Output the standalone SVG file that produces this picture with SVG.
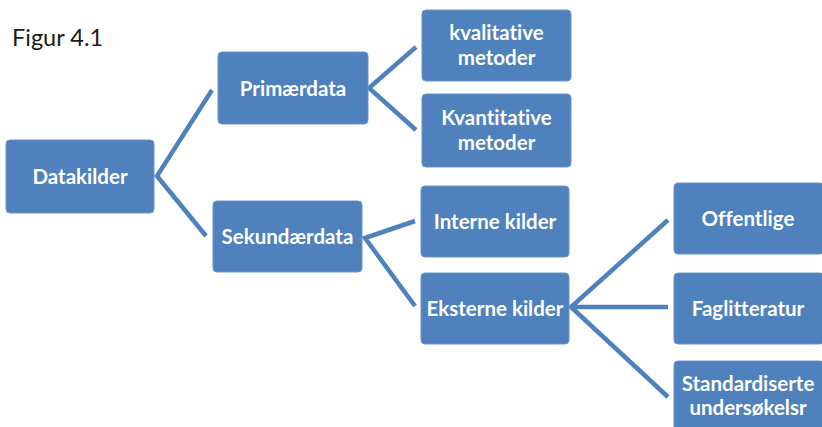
<svg xmlns="http://www.w3.org/2000/svg" width="822" height="427" viewBox="0 0 822 427">
<style>
.box{fill:#4F81BD;stroke:#6a93c8;stroke-width:1}
.lbl{font-family:Lato,"Liberation Sans",sans-serif;font-weight:bold;font-size:20.5px;fill:#ffffff;text-anchor:middle;font-variant-ligatures:none}
.con{fill:none;stroke:#4F81BD;stroke-width:4.5;stroke-linejoin:miter}
.title{font-family:Lato,"Liberation Sans",sans-serif;font-size:23.5px;fill:#1a1a1a}
</style>
<rect width="822" height="427" fill="#ffffff"/>
<text class="title" x="12" y="46">Figur 4.1</text>
<g id="connectors">
<polyline class="con" points="212,90 157,176 206,236"/>
<polyline class="con" points="416,47 369,88 416,130"/>
<polyline class="con" points="415,221 365,238 415,306"/>
<polyline class="con" points="668,220 571,307 668,397"/>
<line class="con" x1="571" y1="307" x2="668" y2="307"/>
</g>
<g id="datakilder"><rect class="box" x="6" y="140" width="148" height="73" rx="4"/><text class="lbl" x="80" y="183.5">Datakilder</text></g>
<g id="primaerdata"><rect class="box" x="218" y="52" width="150" height="72" rx="4"/><text class="lbl" x="293" y="95.5">Primærdata</text></g>
<g id="sekundaerdata"><rect class="box" x="213" y="201" width="149" height="71" rx="4"/><text class="lbl" x="287.5" y="243.5">Sekundærdata</text></g>
<g id="kvalitative"><rect class="box" x="422" y="10" width="149" height="71" rx="4"/><text class="lbl" x="496.5" y="40">kvalitative</text><text class="lbl" x="496.5" y="65">metoder</text></g>
<g id="kvantitative"><rect class="box" x="422" y="94" width="149" height="73" rx="4"/><text class="lbl" x="496.5" y="125">Kvantitative</text><text class="lbl" x="496.5" y="150">metoder</text></g>
<g id="interne"><rect class="box" x="421" y="186" width="148" height="71" rx="4"/><text class="lbl" x="495" y="228.5">Interne kilder</text></g>
<g id="eksterne"><rect class="box" x="421" y="273" width="148" height="71" rx="4"/><text class="lbl" x="495" y="315.5">Eksterne kilder</text></g>
<g id="offentlige"><rect class="box" x="674" y="183" width="150" height="71" rx="4"/><text class="lbl" x="748" y="225.5">Offentlige</text></g>
<g id="faglitteratur"><rect class="box" x="674" y="273" width="150" height="71" rx="4"/><text class="lbl" x="748" y="315.5">Faglitteratur</text></g>
<g id="standardiserte"><rect class="box" x="674" y="361" width="150" height="71" rx="4"/><text class="lbl" x="748" y="391">Standardiserte</text><text class="lbl" x="748" y="415">undersøkelsr</text></g>
</svg>
